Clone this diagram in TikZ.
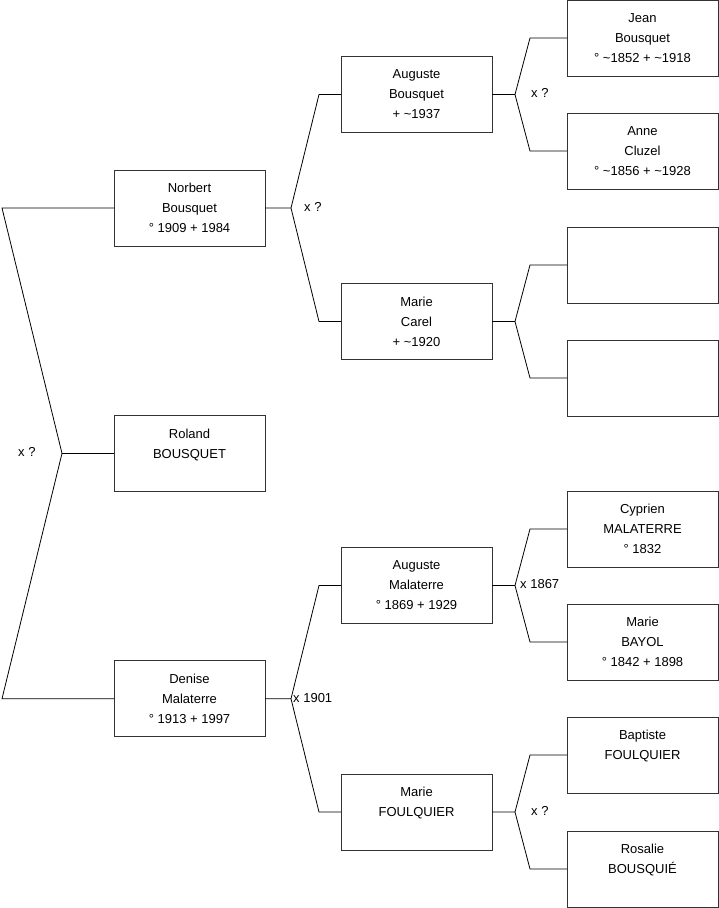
\documentclass[tikz,border=0pt]{standalone}
\usepackage{fontspec}
\setmainfont{Liberation Sans}
\usetikzlibrary{positioning,calc}
\newcommand{\tld}{\textasciitilde}

\begin{document}
\begin{tikzpicture}[
  x=1pt,y=-1pt,
  font=\fontsize{13}{20}\selectfont,
  box/.style={draw=black!80,line width=1pt,outer sep=0pt,inner sep=0pt,align=center,minimum width=151pt,minimum height=76pt},
  link/.style={line width=0.8pt},
  mar/.style={anchor=west,inner sep=0pt}
]
\useasboundingbox (0,0) rectangle (719,908);

% great-grandparents
\node[box] at (642.5,38) (jean) {Jean\\Bousquet\\° \tld1852 + \tld1918};
\node[box,below=37pt of jean] (anne) {Anne\\Cluzel\\° \tld1856 + \tld1928};
\node[box,below=38pt of anne] (ea) {};
\node[box,below=37pt of ea] (eb) {};
\node[box,below=75pt of eb] (cyp) {Cyprien\\MALATERRE\\° 1832};
\node[box,below=37pt of cyp] (bayol) {Marie\\BAYOL\\° 1842 + 1898};
\node[box,below=37pt of bayol] (bapt) {Baptiste\\FOULQUIER\\\mbox{}};
\node[box,below=38pt of bapt] (rosa) {Rosalie\\BOUSQUIÉ\\\mbox{}};

% grandparents
\node[box,left=75pt of {$(jean.west)!0.5!(anne.west)$}] (augb) {Auguste\\Bousquet\\+ \tld1937};
\node[box,left=75pt of {$(ea.west)!0.5!(eb.west)$}] (carel) {Marie\\Carel\\+ \tld1920};
\node[box,left=75pt of {$(cyp.west)!0.5!(bayol.west)$}] (augm) {Auguste\\Malaterre\\° 1869 + 1929};
\node[box,left=75pt of {$(bapt.west)!0.5!(rosa.west)$}] (foul) {Marie\\FOULQUIER\\\mbox{}};

% parents and subject
\node[box,left=76pt of {$(augb.west)!0.5!(carel.west)$}] (norbert) {Norbert\\Bousquet\\° 1909 + 1984};
\node[box,left=76pt of {$(augm.west)!0.5!(foul.west)$}] (denise) {Denise\\Malaterre\\° 1913 + 1997};
\node[box] at ($(norbert)!0.5!(denise)$) (roland) {Roland\\BOUSQUET\\\mbox{}};

% forks
\foreach \c/\f/\m/\s/\t in {norbert/augb/carel/26/22, denise/augm/foul/26/22,
    augb/jean/anne/23/37, carel/ea/eb/23/37, augm/cyp/bayol/23/37, foul/bapt/rosa/23/37}
  \draw[link] (\c.east) -- ([xshift=\s]\c.east) -- ([xshift=-\t]\f.west) -- (\f.west)
    ([xshift=\s]\c.east) -- ([xshift=-\t]\m.west) -- (\m.west);

\coordinate (edge) at (2,0);
\coordinate (root) at ([xshift=-52]roland.west);
\draw[link] (norbert.west) -- (norbert.west -| edge) -- (root) -- (denise.west -| edge) -- (denise.west);
\draw[link] (root) -- (roland.west);

% marriages
\node[mar] (m0) at (18,452) {x ?};
\node[mar] (m1) at (304,207) {x ?};
\node[mar] (m2) at (293,698) {x 1901};
\node[mar] (m3) at (531,93) {x ?};
\node[mar] (m4) at (520,584) {x 1867};
\node[mar] (m5) at (531,811) {x ?};
\end{tikzpicture}
\end{document}
